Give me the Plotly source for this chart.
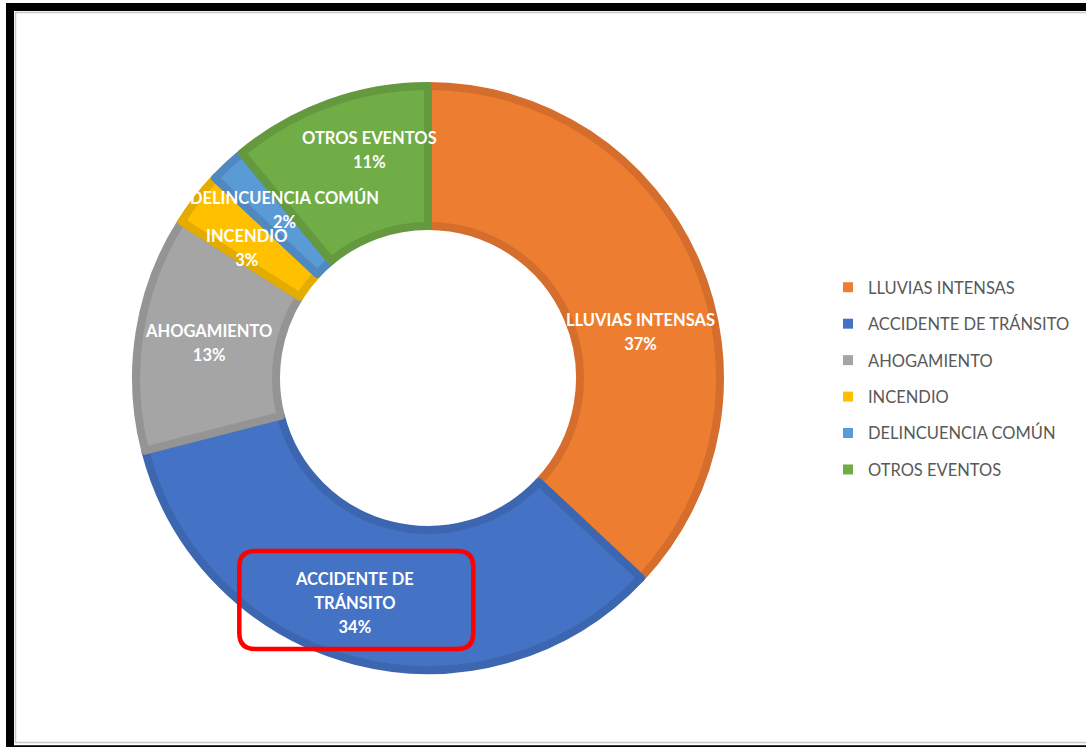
import math
import plotly.graph_objects as go

labels = ["LLUVIAS INTENSAS", "ACCIDENTE DE TRÁNSITO", "AHOGAMIENTO",
          "INCENDIO", "DELINCUENCIA COMÚN", "OTROS EVENTOS"]
label_text = ["LLUVIAS INTENSAS", "ACCIDENTE DE<br>TRÁNSITO", "AHOGAMIENTO",
              "INCENDIO", "DELINCUENCIA COMÚN", "OTROS EVENTOS"]
values = [37, 34, 13, 3, 2, 11]

colors = ["#ED7D31", "#4472C4", "#A5A5A5", "#FFC000", "#5B9BD5", "#70AD47"]
edge_colors = ["#D56E2C", "#3D66B0", "#949494", "#E3AC00", "#5089C0", "#65993F"]

W, H = 1086, 747
CX, CY = 428, 378      # donut centre in px
R_OUT, R_IN = 296, 148  # visible outer / inner edge in px
EDGE = 8               # slice outline width
R = R_OUT - EDGE / 2   # radius plotly draws the fill at
HOLE = (R_IN + EDGE / 2) / R

# small hand nudges (px) so labels sit where the original put them
nudge = {0: (9, 42), 1: (-18, 10), 3: (-6, 6), 4: (8, -6), 5: (17, -19)}

fig = go.Figure()

fig.add_trace(go.Pie(
    labels=labels,
    values=values,
    hole=HOLE,
    sort=False,
    direction="clockwise",
    rotation=0,
    marker=dict(colors=colors, line=dict(color=edge_colors, width=EDGE)),
    textinfo="none",
    showlegend=False,
    domain=dict(x=[(CX - R) / W, (CX + R) / W],
                y=[(H - CY - R) / H, (H - CY + R) / H]),
))

# legend entries (one group each so the spacing can be opened up)
for lab, col in zip(labels, colors):
    fig.add_trace(go.Scatter(
        x=[None], y=[None], mode="markers", name=lab, legendgroup=lab,
        marker=dict(symbol="square", size=10, color=col),
    ))

# data labels at the middle of each ring segment
total = sum(values)
r_mid = (R_OUT + R_IN) / 2
cum = 0
label_px = []
for i, (txt, v) in enumerate(zip(label_text, values)):
    ang = 2 * math.pi * (cum + v / 2) / total
    cum += v
    px = CX + r_mid * math.sin(ang) + nudge.get(i, (0, 0))[0]
    py = CY - r_mid * math.cos(ang) + nudge.get(i, (0, 0))[1]
    label_px.append((px, py))
    pct = f"{round(100 * v / total)}%"
    fig.add_annotation(
        x=px / W, y=1 - py / H, xref="paper", yref="paper",
        xanchor="center", yanchor="middle",
        text=f"<span style='font-size:16.5px'>{txt}<br>{pct}</span>",
        showarrow=False,
        font=dict(family="Lato", size=18.5, color="white", weight="bold"),
    )

# red rounded box around the ACCIDENTE DE TRÁNSITO label
bx, by = label_px[1]
bx, by = bx + 1.5, by - 3
hw, hh, rad = 117, 49, 16
x0, x1, y0, y1 = bx - hw, bx + hw, by - hh, by + hh


def p(x, y):
    return f"{x / W:.5f},{1 - y / H:.5f}"


path = (f"M {p(x0 + rad, y0)} L {p(x1 - rad, y0)} Q {p(x1, y0)} {p(x1, y0 + rad)} "
        f"L {p(x1, y1 - rad)} Q {p(x1, y1)} {p(x1 - rad, y1)} "
        f"L {p(x0 + rad, y1)} Q {p(x0, y1)} {p(x0, y1 - rad)} "
        f"L {p(x0, y0 + rad)} Q {p(x0, y0)} {p(x0 + rad, y0)} Z")
fig.add_shape(type="path", path=path, xref="paper", yref="paper",
              line=dict(color="#FF0000", width=4.5))

# black frame of the screenshot, with its thin grey inner shadow
fig.add_shape(type="rect", xref="paper", yref="paper",
              x0=15.5 / W, x1=1.02, y0=1 - 12.5 / H, y1=1 - 742.5 / H,
              line=dict(color="#C8C8C8", width=1.5))
fig.add_shape(type="rect", xref="paper", yref="paper",
              x0=10 / W, x1=1.02, y0=1 - 7 / H, y1=-0.003,
              line=dict(color="black", width=8))

fig.update_layout(
    width=W, height=H,
    paper_bgcolor="white", plot_bgcolor="white",
    margin=dict(l=0, r=0, t=0, b=0),
    xaxis=dict(visible=False), yaxis=dict(visible=False),
    font=dict(family="Lato"),
    legend=dict(
        x=828 / W, xanchor="left", y=1 - 270 / H, yanchor="top",
        font=dict(family="Lato", size=16.5, color="#595959"),
        tracegroupgap=12, itemwidth=30, bgcolor="rgba(0,0,0,0)",
    ),
)

fig.write_html(
    "out.html",
    config={"displayModeBar": False},
    post_script="document.body.style.margin='0';document.body.style.overflow='hidden';",
)
